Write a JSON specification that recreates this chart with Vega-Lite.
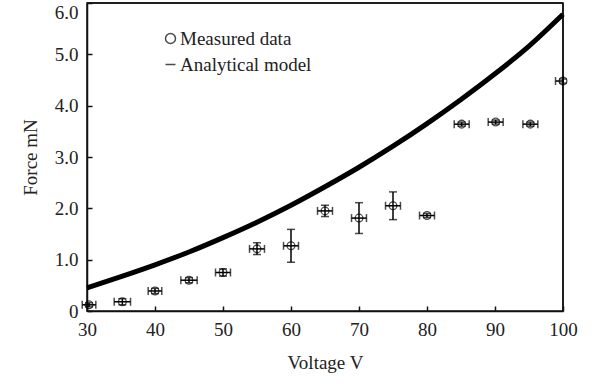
{
  "$schema": "https://vega.github.io/schema/vega-lite/v6.json",
  "width": 476,
  "height": 308,
  "autosize": {"type": "none"},
  "padding": {"left": 87, "top": 3, "right": 28, "bottom": 74},
  "background": "white",
  "config": {
    "font": "Liberation Serif",
    "view": {"stroke": "#111", "strokeWidth": 1.5},
    "axis": {
      "domainColor": "#111", "domainWidth": 1.5, "tickColor": "#111", "tickWidth": 1.5,
      "tickSize": -5, "labelFont": "Liberation Serif", "labelFontSize": 19, "labelColor": "#222",
      "titleFont": "Liberation Serif", "titleFontSize": 19, "titleFontWeight": "normal", "titleColor": "#222",
      "grid": false, "labelFlush": false
    },
    "legend": {"labelFont": "Liberation Serif", "labelFontSize": 19, "labelColor": "#222"}
  },
  "datasets": {
    "measured": [
      {"v": 30.3, "f": 0.12, "vlo": 29.3, "vhi": 31.3, "flo": 0.08, "fhi": 0.16, "series": "Measured data"},
      {"v": 35.2, "f": 0.18, "vlo": 34.0, "vhi": 36.4, "flo": 0.12, "fhi": 0.24, "series": "Measured data"},
      {"v": 40.0, "f": 0.39, "vlo": 39.0, "vhi": 41.0, "flo": 0.34, "fhi": 0.44, "series": "Measured data"},
      {"v": 45.0, "f": 0.60, "vlo": 43.8, "vhi": 46.2, "flo": 0.55, "fhi": 0.65, "series": "Measured data"},
      {"v": 50.0, "f": 0.75, "vlo": 48.9, "vhi": 51.1, "flo": 0.68, "fhi": 0.82, "series": "Measured data"},
      {"v": 55.0, "f": 1.21, "vlo": 53.9, "vhi": 56.1, "flo": 1.10, "fhi": 1.33, "series": "Measured data"},
      {"v": 60.0, "f": 1.27, "vlo": 58.9, "vhi": 61.1, "flo": 0.95, "fhi": 1.59, "series": "Measured data"},
      {"v": 65.0, "f": 1.95, "vlo": 63.9, "vhi": 66.1, "flo": 1.84, "fhi": 2.06, "series": "Measured data"},
      {"v": 70.0, "f": 1.81, "vlo": 68.9, "vhi": 71.1, "flo": 1.51, "fhi": 2.11, "series": "Measured data"},
      {"v": 75.0, "f": 2.05, "vlo": 73.9, "vhi": 76.1, "flo": 1.78, "fhi": 2.32, "series": "Measured data"},
      {"v": 80.0, "f": 1.86, "vlo": 78.9, "vhi": 81.1, "flo": 1.82, "fhi": 1.90, "series": "Measured data"},
      {"v": 85.1, "f": 3.64, "vlo": 84.0, "vhi": 86.2, "flo": 3.60, "fhi": 3.68, "series": "Measured data"},
      {"v": 90.1, "f": 3.68, "vlo": 89.0, "vhi": 91.2, "flo": 3.64, "fhi": 3.72, "series": "Measured data"},
      {"v": 95.2, "f": 3.64, "vlo": 94.1, "vhi": 96.3, "flo": 3.60, "fhi": 3.68, "series": "Measured data"},
      {"v": 100.0, "f": 4.48, "vlo": 98.9, "vhi": 100.0, "flo": 4.44, "fhi": 4.52, "series": "Measured data"}
    ],
    "model": [
      {"v": 30, "f": 0.45}, {"v": 35, "f": 0.67}, {"v": 40, "f": 0.90}, {"v": 45, "f": 1.15},
      {"v": 50, "f": 1.43}, {"v": 55, "f": 1.73}, {"v": 60, "f": 2.06}, {"v": 65, "f": 2.42},
      {"v": 70, "f": 2.80}, {"v": 75, "f": 3.21}, {"v": 80, "f": 3.65}, {"v": 85, "f": 4.12},
      {"v": 90, "f": 4.62}, {"v": 95, "f": 5.16}, {"v": 100, "f": 5.78}
    ],
    "frame": [{"edge": "frame"}]
  },
  "layer": [
    {
      "data": {"name": "model"},
      "mark": {"type": "line", "color": "black", "strokeWidth": 5, "interpolate": "monotone"},
      "encoding": {
        "x": {"field": "v", "type": "quantitative", "title": "Voltage V",
          "scale": {"domain": [30, 100], "nice": false, "zero": false},
          "axis": {"values": [30, 40, 50, 60, 70, 80, 90, 100], "title": "Voltage V", "labelPadding": 14, "titlePadding": 14, "labelFlush": false}},
        "y": {"field": "f", "type": "quantitative", "title": "Force mN",
          "scale": {"domain": [0, 6], "nice": false},
          "axis": {"values": [0, 1, 2, 3, 4, 5, 6], "title": "Force mN", "labelPadding": 14, "titlePadding": 14,
            "labelBaseline": {"condition": {"test": "datum.value == 6", "value": "top"}, "value": "middle"},
            "labelExpr": "datum.value == 0 ? '0' : format(datum.value, '.1f')"}}
      }
    },
    {
      "data": {"name": "frame"},
      "mark": {"type": "rule", "color": "#111", "strokeWidth": 1.5},
      "encoding": {"y": {"datum": 6, "type": "quantitative"}}
    },
    {
      "data": {"name": "frame"},
      "mark": {"type": "rule", "color": "#111", "strokeWidth": 1.5},
      "encoding": {"x": {"datum": 100, "type": "quantitative"}}
    },
    {
      "data": {"name": "measured"},
      "mark": {"type": "rule", "color": "black", "strokeWidth": 1.5},
      "encoding": {
        "x": {"field": "vlo", "type": "quantitative", "title": "Voltage V"},
        "x2": {"field": "vhi"},
        "y": {"field": "f", "type": "quantitative", "title": "Force mN"}
      }
    },
    {
      "data": {"name": "measured"},
      "mark": {"type": "rule", "color": "black", "strokeWidth": 1.5},
      "encoding": {
        "x": {"field": "v", "type": "quantitative", "title": "Voltage V"},
        "y": {"field": "flo", "type": "quantitative", "title": "Force mN"},
        "y2": {"field": "fhi"}
      }
    },
    {
      "data": {"name": "measured"},
      "mark": {"type": "tick", "orient": "vertical", "color": "black", "size": 8, "thickness": 1.5},
      "encoding": {
        "x": {"field": "vlo", "type": "quantitative", "title": "Voltage V"},
        "y": {"field": "f", "type": "quantitative", "title": "Force mN"}
      }
    },
    {
      "data": {"name": "measured"},
      "mark": {"type": "tick", "orient": "vertical", "color": "black", "size": 8, "thickness": 1.5},
      "encoding": {
        "x": {"field": "vhi", "type": "quantitative", "title": "Voltage V"},
        "y": {"field": "f", "type": "quantitative", "title": "Force mN"}
      }
    },
    {
      "data": {"name": "measured"},
      "mark": {"type": "tick", "orient": "horizontal", "color": "black", "size": 8, "thickness": 1.5},
      "encoding": {
        "x": {"field": "v", "type": "quantitative", "title": "Voltage V"},
        "y": {"field": "flo", "type": "quantitative", "title": "Force mN"}
      }
    },
    {
      "data": {"name": "measured"},
      "mark": {"type": "tick", "orient": "horizontal", "color": "black", "size": 8, "thickness": 1.5},
      "encoding": {
        "x": {"field": "v", "type": "quantitative", "title": "Voltage V"},
        "y": {"field": "fhi", "type": "quantitative", "title": "Force mN"}
      }
    },
    {
      "data": {"name": "measured"},
      "mark": {"type": "point", "filled": false, "color": "black", "size": 60, "strokeWidth": 1.3},
      "encoding": {
        "x": {"field": "v", "type": "quantitative", "title": "Voltage V"},
        "y": {"field": "f", "type": "quantitative", "title": "Force mN"},
        "shape": {"field": "series", "type": "nominal",
          "scale": {"domain": ["Measured data", "Analytical model"], "range": ["circle", "stroke"]},
          "legend": {"title": null, "orient": "none", "legendX": 74, "legendY": 26, "padding": 0,
            "labelOffset": 0, "rowPadding": 6, "symbolStrokeColor": "black",
            "encode": {"symbols": {"update": {
              "size": {"signal": "datum.label == 'Analytical model' ? 520 : 60"},
              "strokeWidth": {"signal": "datum.label == 'Analytical model' ? 5 : 1.3"}}}}}}
      }
    }
  ]
}
